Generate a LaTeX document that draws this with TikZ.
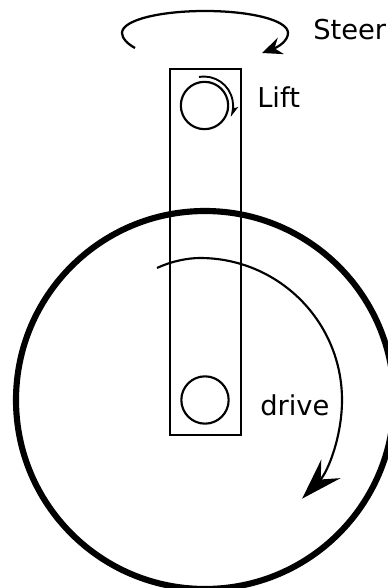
\documentclass[tikz,border=0pt]{standalone}
\usepackage{fontspec}
\setmainfont{DejaVu Sans}
\usetikzlibrary{arrows.meta}
\tikzset{
  wheelline/.style={draw=black,line width=4.6pt},
  armline/.style={draw=black,line width=1.6pt},
  hubnode/.style={circle,draw=black,line width=1.6pt,minimum size=35.5pt,inner sep=0pt},
  lbl/.style={anchor=base west,inner sep=0pt,font=\fontsize{20.5}{24}\selectfont},
  steerarrow/.style={-{Stealth[length=15pt,width=13pt,inset=5pt]},line width=1.7pt},
  liftarrow/.style={-{Stealth[length=9pt,width=4.5pt,inset=2pt]},line width=1.4pt},
  drivearrow/.style={-{Stealth[length=31pt,width=20pt,inset=11pt]},line width=1.6pt},
}
\begin{document}
\begin{tikzpicture}[x=0.75pt,y=-0.75pt]
    \useasboundingbox (0,0) rectangle (388,588);
    \node[circle,wheelline,minimum size=283.5pt,inner sep=0pt] (wheel) at (205,400) {};
    \node[rectangle,armline,minimum width=53pt,minimum height=274.5pt,inner sep=0pt] (arm) at (205.5,252) {};
    \node[hubnode] (tophub) at (204.5,105.5) {};
    \node[hubnode] (bothub) at (205,400) {};
    \node[lbl] (steer) at (313,40) {Steer};
    \node[lbl] (lift) at (257,108) {Lift};
    \node[lbl] (drive) at (260,415) {drive};
    \coordinate (steerstart) at (135,48);
    \coordinate (liftstart) at (199,77);
    \coordinate (drivestart) at (157,268);
    \draw[steerarrow] (steerstart) .. controls (128,44) and (122,39) .. (122,33)
      .. controls (122,20) and (160,11) .. (205,11)
      .. controls (250,11) and (288,20) .. (288,33)
      .. controls (288,41) and (278,47) .. (262,53);
    \draw[liftarrow] (liftstart) arc[start angle=-100,end angle=23,radius=29];
    \draw[drivearrow] (drivestart) .. controls (172,261) and (188,258) .. (200,258)
      arc[start angle=-90,end angle=44,radius=142];
\end{tikzpicture}
\end{document}
